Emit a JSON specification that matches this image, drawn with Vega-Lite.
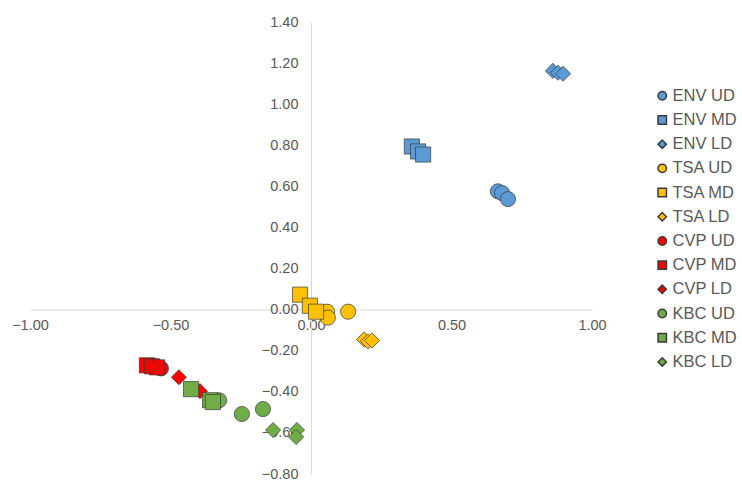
{
  "$schema": "https://vega.github.io/schema/vega-lite/v6.json",
  "width": 562,
  "height": 452,
  "autosize": "none",
  "padding": {"left": 30, "top": 22, "right": 150, "bottom": 8},
  "background": "white",
  "config": {"view": {"stroke": null}},
  "data": {
    "values": [
      {"series": "ENV UD", "x": 0.665, "y": 0.576},
      {"series": "ENV UD", "x": 0.680, "y": 0.567},
      {"series": "ENV UD", "x": 0.701, "y": 0.538},
      {"series": "ENV MD", "x": 0.359, "y": 0.794},
      {"series": "ENV MD", "x": 0.381, "y": 0.770},
      {"series": "ENV MD", "x": 0.399, "y": 0.755},
      {"series": "ENV LD", "x": 0.861, "y": 1.162},
      {"series": "ENV LD", "x": 0.879, "y": 1.153},
      {"series": "ENV LD", "x": 0.897, "y": 1.148},
      {"series": "TSA UD", "x": 0.057, "y": -0.010},
      {"series": "TSA UD", "x": 0.060, "y": -0.039},
      {"series": "TSA UD", "x": 0.132, "y": -0.010},
      {"series": "TSA MD", "x": -0.039, "y": 0.073},
      {"series": "TSA MD", "x": -0.004, "y": 0.019},
      {"series": "TSA MD", "x": 0.018, "y": -0.010},
      {"series": "TSA LD", "x": 0.189, "y": -0.145},
      {"series": "TSA LD", "x": 0.203, "y": -0.155},
      {"series": "TSA LD", "x": 0.217, "y": -0.150},
      {"series": "CVP UD", "x": -0.555, "y": -0.276},
      {"series": "CVP UD", "x": -0.544, "y": -0.281},
      {"series": "CVP UD", "x": -0.534, "y": -0.286},
      {"series": "CVP MD", "x": -0.584, "y": -0.271},
      {"series": "CVP MD", "x": -0.566, "y": -0.276},
      {"series": "CVP MD", "x": -0.548, "y": -0.281},
      {"series": "CVP LD", "x": -0.569, "y": -0.276},
      {"series": "CVP LD", "x": -0.470, "y": -0.329},
      {"series": "CVP LD", "x": -0.395, "y": -0.397},
      {"series": "KBC UD", "x": -0.327, "y": -0.441},
      {"series": "KBC UD", "x": -0.246, "y": -0.508},
      {"series": "KBC UD", "x": -0.171, "y": -0.484},
      {"series": "KBC MD", "x": -0.427, "y": -0.387},
      {"series": "KBC MD", "x": -0.359, "y": -0.441},
      {"series": "KBC MD", "x": -0.349, "y": -0.450},
      {"series": "KBC LD", "x": -0.135, "y": -0.586},
      {"series": "KBC LD", "x": -0.050, "y": -0.586},
      {"series": "KBC LD", "x": -0.053, "y": -0.620}
    ]
  },
  "mark": {"type": "point", "filled": true, "size": 230, "stroke": "#3a3a3a", "strokeWidth": 0.7, "opacity": 1},
  "encoding": {
    "x": {
      "field": "x", "type": "quantitative",
      "scale": {"domain": [-1, 1], "nice": false, "zero": false},
      "axis": {"values": [-1, -0.5, 0, 0.5, 1], "format": ".2f", "offset": -164.4, "domainColor": "#d9d9d9", "ticks": false, "tickSize": 0, "grid": false, "labelFlush": false, "labelPadding": 9, "labelFontSize": 14.5, "labelColor": "#595959", "labelFont": "Liberation Sans", "title": null}
    },
    "y": {
      "field": "y", "type": "quantitative",
      "scale": {"domain": [-0.8, 1.4], "nice": false, "zero": false},
      "axis": {"values": [-0.8, -0.6, -0.4, -0.2, 0, 0.2, 0.4, 0.6, 0.8, 1.0, 1.2, 1.4], "format": ".2f", "offset": -281, "domainColor": "#d9d9d9", "ticks": false, "tickSize": 0, "grid": false, "labelFlush": false, "labelPadding": 13, "labelFontSize": 14.5, "labelColor": "#595959", "labelFont": "Liberation Sans", "title": null}
    },
    "color": {
      "field": "series", "type": "nominal",
      "sort": ["ENV UD", "ENV MD", "ENV LD", "TSA UD", "TSA MD", "TSA LD", "CVP UD", "CVP MD", "CVP LD", "KBC UD", "KBC MD", "KBC LD"],
      "scale": {
        "domain": ["ENV UD", "ENV MD", "ENV LD", "TSA UD", "TSA MD", "TSA LD", "CVP UD", "CVP MD", "CVP LD", "KBC UD", "KBC MD", "KBC LD"],
        "range": ["#5b9bd5", "#5b9bd5", "#5b9bd5", "#ffc000", "#ffc000", "#ffc000", "#ff0000", "#ff0000", "#ff0000", "#70ad47", "#70ad47", "#70ad47"]
      },
      "legend": {"title": null, "orient": "none", "legendX": 624, "legendY": 65.5, "symbolSize": 70, "labelFontSize": 16.5, "labelColor": "#595959", "labelFont": "Liberation Sans", "rowPadding": 7.2, "labelOffset": 2}
    },
    "shape": {
      "field": "series", "type": "nominal",
      "sort": ["ENV UD", "ENV MD", "ENV LD", "TSA UD", "TSA MD", "TSA LD", "CVP UD", "CVP MD", "CVP LD", "KBC UD", "KBC MD", "KBC LD"],
      "scale": {
        "domain": ["ENV UD", "ENV MD", "ENV LD", "TSA UD", "TSA MD", "TSA LD", "CVP UD", "CVP MD", "CVP LD", "KBC UD", "KBC MD", "KBC LD"],
        "range": ["circle", "square", "diamond", "circle", "square", "diamond", "circle", "square", "diamond", "circle", "square", "diamond"]
      },
      "legend": {"title": null, "orient": "none", "legendX": 624, "legendY": 65.5, "symbolSize": 70, "labelFontSize": 16.5, "labelColor": "#595959", "labelFont": "Liberation Sans", "rowPadding": 7.2, "labelOffset": 2}
    }
  }
}
